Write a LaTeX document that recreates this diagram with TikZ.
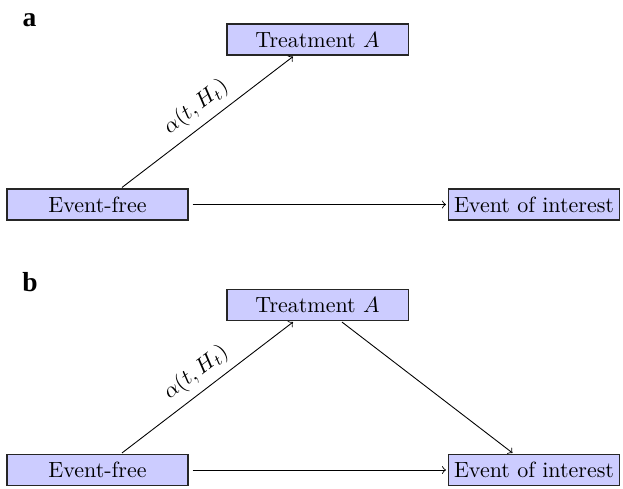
\documentclass[tikz,border=0pt]{standalone}
\usepackage{fontspec}
\newfontfamily\panelfont{Liberation Serif}
\usetikzlibrary{calc}
\definecolor{boxfill}{RGB}{204,204,255}
\tikzset{
  statebox/.style={draw=black!85, fill=boxfill, line width=0.5pt, inner xsep=2.6pt, inner ysep=0pt, minimum height=14.1pt, text height=6.9pt, text depth=0pt},
  widebox/.style={statebox, minimum width=82.3pt},
  flow/.style={->, line width=0.4pt},
  panellabel/.style={font=\panelfont\bfseries\fontsize{12.5}{14}\selectfont, anchor=base}
}
\begin{document}
\begin{tikzpicture}[x=0.4545pt,y=-0.4545pt]
\useasboundingbox (0,0) rectangle (623,488);
% panel a
\node[panellabel] (la) at (29.5,26) {a};
\node[widebox] (tra) at (317.5,39.5) {Treatment $A$};
\node[widebox] (efa) at (97.5,204.5) {Event-free};
\node[statebox] (eoia) at (534,204.5) {Event of interest};
\draw[flow] ($(efa.north)+(24.5,-1)$) -- node[above, sloped, midway] {$\alpha(t,H_t)$} ($(tra.south)+(-24.5,1)$);
\draw[flow, shorten <=1.8pt, shorten >=0.8pt] (efa.east) -- (eoia.west);
% panel b
\node[panellabel] (lb) at (30,291) {b};
\node[widebox] (trb) at (317.5,305) {Treatment $A$};
\node[widebox] (efb) at (97.5,470) {Event-free};
\node[statebox] (eoib) at (534,470) {Event of interest};
\draw[flow] ($(efb.north)+(24.5,-1)$) -- node[above, sloped, midway] {$\alpha(t,H_t)$} ($(trb.south)+(-24.5,1)$);
\draw[flow] ($(trb.south)+(24.5,1)$) -- ($(eoib.north)+(-21.5,-1)$);
\draw[flow, shorten <=1.8pt, shorten >=0.8pt] (efb.east) -- (eoib.west);
\end{tikzpicture}
\end{document}
